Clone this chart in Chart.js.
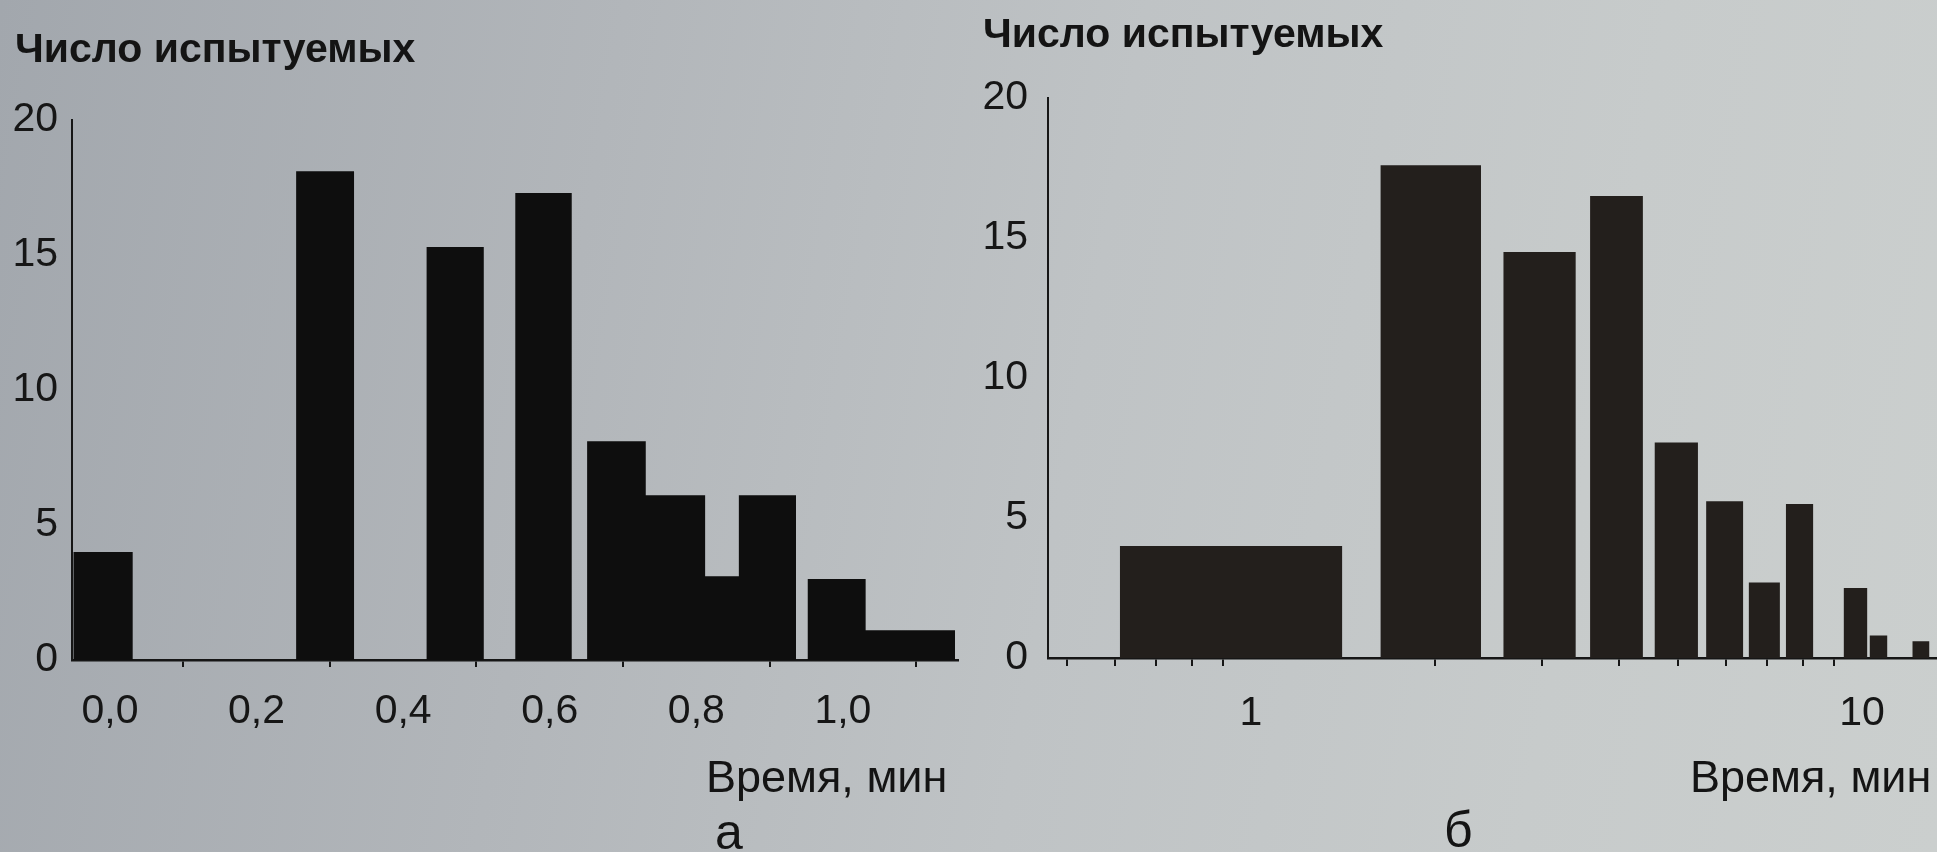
<!DOCTYPE html>
<html lang="ru">
<head>
<meta charset="utf-8">
<title>Время реакции — гистограммы</title>
<script src="https://cdn.jsdelivr.net/npm/chart.js@4.4.1/dist/chart.umd.min.js"></script>
<style>
  html, body { margin: 0; padding: 0; }
  body {
    width: 1937px; height: 852px; overflow: hidden; position: relative;
    background: linear-gradient(100deg, #a2a7ad 0%, #b2b6ba 30%, #bfc3c5 55%, #c7cbcb 80%, #cbcfce 100%);
    font-family: 'Liberation Sans', Arial, sans-serif;
    color: #141414;
  }
  canvas { position: absolute; top: 0; }
  #chartA { left: 0; }
  #chartB { left: 968px; }
  .lbl { position: absolute; line-height: 1; white-space: nowrap; }
  .ytitle { font-size: 41px; font-weight: bold; }
  .xtitle { font-size: 45px; }
  .panel { font-size: 50px; }
</style>
</head>
<body>

<canvas id="chartA" width="968" height="852"></canvas>
<canvas id="chartB" width="969" height="852"></canvas>

<div class="lbl ytitle" style="left:15px; top:28px;">Число испытуемых</div>
<div class="lbl ytitle" style="left:983px; top:13px;">Число испытуемых</div>
<div class="lbl xtitle" style="left:706px; top:754px;">Время, мин</div>
<div class="lbl xtitle" style="left:1690px; top:754px;">Время, мин</div>
<div class="lbl panel" style="left:715px; top:807px;">а</div>
<div class="lbl panel" style="left:1444px; top:805px;">б</div>

<script>
/* ═══════════════════════════════════════════════════════════════════
   Two histograms of the same reaction times:
   (а) log10 of time on a linear axis, (б) time on a log axis
   ═══════════════════════════════════════════════════════════════════ */

// ── DATA: panel а (x in log10 minutes) ───────────────────────────
const binLoA   = [-0.050, 0.254, 0.432, 0.553, 0.651, 0.731, 0.812, 0.858, 0.952, 1.031];
const binHiA   = [ 0.031, 0.333, 0.510, 0.630, 0.731, 0.812, 0.858, 0.936, 1.031, 1.153];
const countsA  = [4, 18.1, 15.3, 17.3, 8.1, 6.1, 3.1, 6.1, 3, 1.1];
const ticksA   = [0, 0.1, 0.2, 0.3, 0.4, 0.5, 0.6, 0.7, 0.8, 0.9, 1.0, 1.1];
const labeledA = [0, 0.2, 0.4, 0.6, 0.8, 1.0];

// ── DATA: panel б (x in minutes, log axis) ───────────────────────
const binLoB   = [0.61, 1.63, 2.59, 3.59, 4.58, 5.56, 6.53, 7.51, 9.34, 10.3, 12.1];
const binHiB   = [1.41, 2.38, 3.40, 4.38, 5.39, 6.39, 7.34, 8.32, 10.2, 11.0, 12.9];
const countsB  = [4, 17.6, 14.5, 16.5, 7.7, 5.6, 2.7, 5.5, 2.5, 0.8, 0.6];
const ticksB   = [0.5, 0.6, 0.7, 0.8, 0.9, 1, 2, 3, 4, 5, 6, 7, 8, 9, 10];
const labeledB = [1, 10];

const yTicks   = [0, 5, 10, 15, 20];

// ── GLOBAL DEFAULTS ───────────────────────────────────────────────
Chart.defaults.font.family = "'Liberation Sans', Arial, sans-serif";
Chart.defaults.font.size = 41;
Chart.defaults.color = '#161616';
Chart.defaults.plugins.legend.display = false;
Chart.defaults.plugins.tooltip.enabled = false;

const INK = '#161616';
const CLEAR = 'rgba(0,0,0,0)';

// histogram outline: each bin becomes a rectangle down to zero
function binPoints(lo, hi, counts) {
  const pts = [];
  counts.forEach((c, i) => {
    pts.push({ x: lo[i], y: 0 }, { x: lo[i], y: c }, { x: hi[i], y: c }, { x: hi[i], y: 0 });
  });
  return pts;
}

const isLabeled = (list, v) => list.some(t => Math.abs(t - v) < 1e-6);

// ── HELPER: one panel ────────────────────────────────────────────
function renderPanel(canvasId, cfg) {
  const canvas = document.getElementById(canvasId);
  return new Chart(canvas.getContext('2d'), {
    type: 'line',
    data: {
      datasets: [{
        data: binPoints(cfg.lo, cfg.hi, cfg.counts),
        fill: 'origin',
        backgroundColor: cfg.barColor,
        borderWidth: 0,
        pointRadius: 0,
        tension: 0,
      }]
    },
    options: {
      responsive: false,
      animation: false,
      events: [],
      layout: { padding: cfg.padding },
      scales: {
        x: {
          type: cfg.xType,
          min: cfg.xMin,
          max: cfg.xMax,
          afterBuildTicks: (s) => { s.ticks = cfg.ticks.map(v => ({ value: v })); },
          afterFit: (s) => { s.height = cfg.xHeight; },
          border: { display: true, color: INK, width: 2.5 },
          grid: {
            drawOnChartArea: false,
            tickLength: cfg.tickLength,
            lineWidth: 2,
            color: INK,
            tickColor: (ctx) => ctx.tick && isLabeled(cfg.labeled, ctx.tick.value) ? CLEAR : INK,
          },
          ticks: {
            autoSkip: false,
            maxRotation: 0,
            minRotation: 0,
            padding: cfg.xPad,
            callback: (v) => isLabeled(cfg.labeled, v) ? cfg.fmt(v) : '',
          }
        },
        y: {
          min: 0,
          max: 20,
          afterBuildTicks: (s) => { s.ticks = yTicks.map(v => ({ value: v })); },
          afterFit: (s) => { s.width = cfg.yWidth; },
          border: { display: true, color: INK, width: 2 },
          grid: { display: false },
          ticks: { padding: cfg.yPad }
        }
      }
    }
  });
}

// ── PANEL а ──────────────────────────────────────────────────────
renderPanel('chartA', {
  lo: binLoA, hi: binHiA, counts: countsA,
  ticks: ticksA, labeled: labeledA,
  fmt: (v) => v.toFixed(1).replace('.', ','),
  xType: 'linear', xMin: -0.0518, xMax: 1.157,
  barColor: '#0e0e0e',
  padding: { left: 0, right: 10, top: 120, bottom: 0 },
  yWidth: 72, xHeight: 192,
  tickLength: 7, xPad: 20, yPad: 6,
});

// ── PANEL б ──────────────────────────────────────────────────────
renderPanel('chartB', {
  lo: binLoB, hi: binHiB, counts: countsB,
  ticks: ticksB, labeled: labeledB,
  fmt: (v) => String(v),
  xType: 'logarithmic', xMin: 0.4654, xMax: 13.27,
  barColor: '#231f1c',
  padding: { left: 0, right: 0, top: 98, bottom: 0 },
  yWidth: 80, xHeight: 194,
  tickLength: 8, xPad: 23, yPad: 12,
});
</script>
</body>
</html>
